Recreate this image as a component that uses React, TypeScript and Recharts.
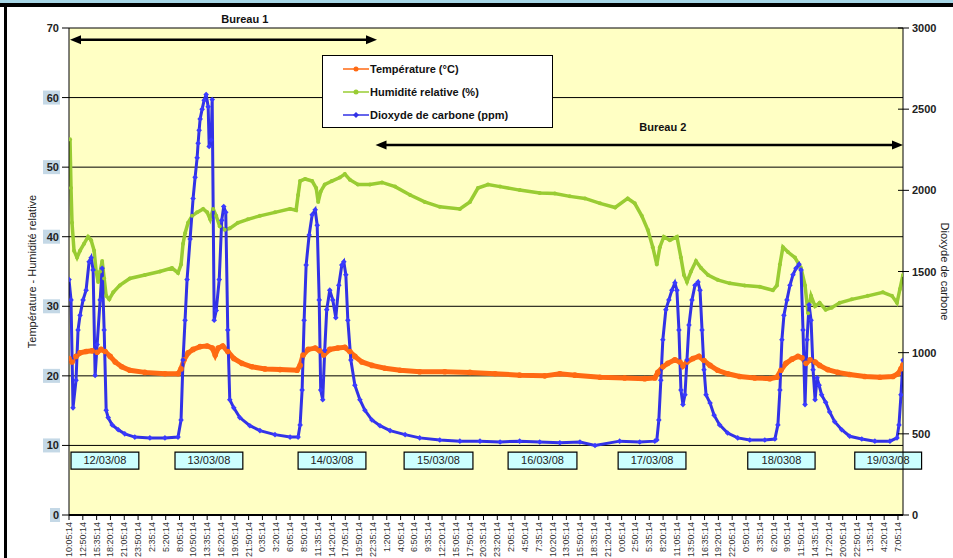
import { LineChart, Line, XAxis, YAxis, CartesianGrid, ReferenceArea, ReferenceLine, ReferenceDot } from 'recharts';

const FONT = '"Liberation Sans", Arial, sans-serif';

// x axis: hours since 12/03/08 10:05:14, one label every 2h45
const tickLabels = [
  '10:05:14', '12:50:14', '15:35:14', '18:20:14', '21:05:14', '23:50:14', '2:35:14', '5:20:14',
  '8:05:14', '10:50:14', '13:35:14', '16:20:14', '19:05:14', '21:50:14', '0:35:14', '3:20:14',
  '6:05:14', '8:50:14', '11:35:14', '14:20:14', '17:05:14', '19:50:14', '22:35:14', '1:20:14',
  '4:05:14', '6:50:14', '9:35:14', '12:20:14', '15:05:14', '17:50:14', '20:35:14', '23:20:14',
  '2:05:14', '4:50:14', '7:35:14', '10:20:14', '13:05:14', '15:50:14', '18:35:14', '21:20:14',
  '0:05:14', '2:50:14', '5:35:14', '8:20:14', '11:05:14', '13:50:14', '16:35:14', '19:20:14',
  '22:05:14', '0:50:14', '3:35:14', '6:20:14', '9:05:14', '11:50:14', '14:35:14', '17:20:14',
  '20:05:14', '22:50:14', '1:35:14', '4:20:14', '7:05:14',
];
const tickHours = tickLabels.map((_, i) => i * 2.75);

const leftTicks = [0, 10, 20, 30, 40, 50, 60, 70];
const rightTicks = [0, 500, 1000, 1500, 2000, 2500, 3000];

const tempHours = [0, 0.6, 1.4, 2.2, 3.4, 4.6, 5.6, 6.4, 7.2, 8.2, 9.2, 10.5, 12.1, 15.1, 19.1, 21.7, 22.3, 22.9, 23.7, 24.7, 26.1, 27.5, 28.5, 29.1, 29.7, 30.6, 31.6, 32.8, 34.4, 36.4, 39.0, 42.0, 45.4, 46.0, 46.6, 47.6, 49.0, 49.9, 50.7, 51.9, 53.5, 54.9, 55.9, 56.9, 58.3, 60.3, 62.9, 65.9, 69.8, 74.8, 79.8, 84.8, 89.7, 94.7, 97.7, 100.7, 105.7, 110.6, 114.6, 116.6, 117.2, 118.2, 119.2, 120.6, 121.6, 122.2, 123.0, 124.2, 125.4, 126.4, 127.6, 129.1, 131.1, 133.5, 136.5, 139.5, 140.9, 141.7, 142.7, 143.9, 145.1, 145.9, 146.7, 147.5, 148.5, 149.4, 151.0, 153.0, 155.4, 158.4, 161.4, 164.0, 165.0, 165.6, 166.0];
const tempC = [22.5, 22.0, 22.8, 23.3, 23.5, 23.6, 23.4, 23.8, 23.5, 22.8, 22.0, 21.3, 20.8, 20.5, 20.3, 20.3, 21.0, 22.3, 23.3, 23.8, 24.2, 24.3, 24.0, 23.0, 24.0, 24.3, 23.5, 22.5, 21.8, 21.3, 21.0, 20.9, 20.8, 21.5, 23.0, 23.8, 24.0, 23.6, 23.0, 23.8, 24.0, 24.1, 23.5, 22.8, 22.0, 21.5, 21.1, 20.8, 20.6, 20.6, 20.5, 20.3, 20.1, 20.0, 20.3, 20.1, 19.8, 19.7, 19.6, 19.7, 20.5, 21.3, 21.8, 22.3, 22.0, 21.4, 22.0, 22.5, 22.8, 22.2, 21.5, 20.8, 20.3, 19.9, 19.7, 19.6, 19.8, 20.8, 21.8, 22.4, 22.8, 22.6, 21.8, 22.3, 22.0, 21.5, 20.9, 20.5, 20.2, 19.9, 19.8, 19.9, 20.3, 21.0, 21.6];

const humHours = [0.2, 0.4, 0.6, 1.0, 1.6, 2.2, 3.0, 3.8, 4.4, 5.0, 5.4, 5.8, 6.2, 6.6, 7.0, 7.4, 8.0, 8.8, 10.1, 12.1, 15.1, 18.1, 20.5, 21.7, 22.3, 22.7, 23.1, 23.7, 24.5, 25.5, 26.7, 27.5, 28.1, 28.7, 29.3, 30.0, 31.0, 32.0, 33.6, 35.6, 38.0, 41.0, 44.0, 45.2, 45.6, 46.0, 47.0, 48.4, 49.2, 49.6, 50.1, 50.9, 52.3, 53.9, 54.9, 55.9, 57.5, 59.9, 62.3, 64.9, 67.9, 70.8, 73.8, 77.8, 79.8, 81.4, 83.4, 85.8, 89.7, 93.7, 96.7, 99.7, 102.7, 105.7, 108.7, 111.2, 112.6, 114.0, 115.2, 116.2, 117.0, 117.6, 118.4, 119.6, 121.0, 121.8, 122.4, 123.0, 123.8, 124.8, 125.8, 127.2, 129.1, 131.5, 134.5, 137.5, 140.1, 140.9, 141.5, 142.1, 143.1, 144.5, 145.7, 146.5, 147.1, 147.7, 148.5, 149.4, 150.6, 151.8, 153.4, 155.8, 159.0, 162.0, 163.8, 164.8, 165.4, 166.0];
const humPct = [54, 47, 42, 38, 37, 38, 39, 40, 39.5, 38, 35, 33.5, 35, 36.5, 34, 31.5, 31, 32, 33, 34, 34.5, 35, 35.5, 34.8, 36, 39, 40.5, 42, 43, 43.5, 44, 43.5, 42.5, 44, 43, 41.5, 41, 41.2, 42, 42.5, 43, 43.5, 44, 43.8, 46, 48, 48.3, 48, 47, 45, 46.5, 47.5, 48, 48.5, 49, 48.2, 47.5, 47.5, 47.8, 47.2, 46, 45, 44.3, 44, 45, 47, 47.5, 47.2, 46.7, 46.3, 46.2, 45.8, 45.5, 44.8, 44.2, 45.5, 44.8, 43, 41, 38.5, 36, 38.5, 40, 39.5, 40, 37, 34.5, 33.5, 35, 36.5, 35.5, 34.5, 33.8, 33.3, 33, 32.8, 32.3, 33, 36, 38.5, 37.8, 37, 35.5, 33, 29, 31.5, 30, 30.5, 29.5, 29.8, 30.5, 31, 31.5, 32, 31.5, 30.5, 32.5, 34.5];

const co2Hours = [0, 0.4, 0.8, 1.4, 1.8, 2.2, 2.8, 3.4, 4.0, 4.4, 4.8, 5.2, 5.6, 6.2, 6.6, 7.0, 7.4, 7.8, 8.6, 9.8, 11.1, 13.1, 16.1, 19.1, 21.7, 22.3, 22.7, 23.1, 23.5, 24.1, 24.7, 25.1, 25.5, 25.7, 25.9, 26.1, 26.5, 26.9, 27.3, 27.7, 27.9, 28.3, 28.5, 28.9, 29.3, 29.9, 30.4, 30.8, 31.2, 31.6, 32.0, 32.8, 34.0, 36.0, 38.0, 41.0, 44.0, 45.6, 46.0, 46.4, 46.8, 47.2, 47.8, 48.4, 49.0, 49.4, 49.8, 50.1, 50.5, 50.9, 51.3, 51.9, 52.5, 53.1, 53.7, 54.3, 54.7, 55.1, 55.5, 56.1, 56.9, 57.9, 58.9, 60.3, 61.9, 63.9, 66.9, 69.8, 73.8, 77.8, 81.8, 85.8, 89.7, 93.7, 97.7, 101.7, 104.7, 109.6, 113.6, 116.6, 117.0, 117.4, 117.8, 118.2, 118.8, 119.4, 120.0, 120.6, 121.0, 121.4, 121.8, 122.2, 122.6, 123.0, 123.4, 124.0, 124.6, 125.2, 125.6, 126.0, 126.4, 126.8, 127.6, 128.4, 129.5, 131.1, 133.1, 135.5, 138.5, 140.5, 141.1, 141.5, 141.9, 142.3, 142.9, 143.5, 144.1, 144.7, 145.3, 145.7, 146.1, 146.5, 146.9, 147.3, 147.7, 148.1, 148.5, 148.9, 149.3, 149.8, 150.6, 151.4, 152.4, 153.8, 155.4, 157.8, 160.4, 163.4, 164.8, 165.2, 165.6, 166.0];
const co2Ppm = [1450, 1325, 660, 830, 1140, 1230, 1325, 1385, 1560, 1585, 1510, 860, 1050, 1325, 1520, 1140, 645, 600, 555, 525, 500, 480, 475, 475, 480, 585, 955, 1200, 1450, 1700, 1950, 2080, 2200, 2290, 2370, 2440, 2500, 2555, 2590, 2515, 2270, 2310, 2560, 1200, 1260, 1450, 1815, 1900, 1865, 1140, 710, 660, 600, 550, 520, 495, 480, 480, 555, 770, 1200, 1540, 1725, 1850, 1880, 1785, 1325, 770, 710, 1015, 1265, 1385, 1325, 1215, 1415, 1540, 1560, 1480, 1200, 955, 800, 710, 645, 585, 550, 520, 495, 475, 462, 455, 455, 450, 455, 450, 445, 450, 428, 455, 450, 455, 462, 585, 830, 1080, 1265, 1325, 1385, 1430, 1385, 1140, 770, 680, 740, 955, 1170, 1325, 1415, 1435, 1385, 1140, 895, 740, 690, 615, 555, 505, 475, 462, 462, 468, 555, 770, 1080, 1230, 1325, 1415, 1480, 1520, 1545, 1510, 1140, 680, 1080, 1295, 1200, 895, 710, 845, 800, 740, 695, 635, 575, 525, 485, 468, 455, 455, 475, 555, 740, 955];

const tempData = tempHours.map((t, i) => ({ t, v: tempC[i] }));
const humData = humHours.map((t, i) => ({ t, v: humPct[i] }));
const co2Data = co2Hours.map((t, i) => ({ t, v: co2Ppm[i] }));

// date annotations (hours) on the left axis scale
const dateLabels = ['12/03/08', '13/03/08', '14/03/08', '15/03/08', '16/03/08', '17/03/08', '18/0308', '19/03/08'];
const dateFrom = [0.4, 21.1, 45.6, 66.7, 87.4, 109.3, 135.1, 156.4];
const dateTo = [13.9, 34.6, 59.1, 80.4, 101.1, 122.8, 148.5, 169.7];

const series = [
  { name: 'Température (°C)', color: '#ff6a13' },
  { name: 'Humidité relative (%)', color: '#99cc33' },
  { name: 'Dioxyde de carbone (ppm)', color: '#3232e6' },
];

const TimeTick = (p: any) => {
  const label = tickLabels[Math.round(p.payload.value / 2.75)];
  return (
    <text x={p.x} y={p.y} dy={3} transform={`rotate(-90 ${p.x} ${p.y})`} textAnchor="end" fontSize={9} fill="#333">
      {label}
    </text>
  );
};

const LeftTick = (p: any) => {
  const v = p.payload.value;
  const w = String(v).length * 7 + 3;
  return (
    <g>
      {v < 70 && <rect x={p.x - w + 1} y={p.y - 7} width={w} height={14} fill="#c4d8e6" />}
      <text x={p.x} y={p.y} dy={4} textAnchor="end" fontSize={11} fontWeight="bold" fill="#222">{v}</text>
    </g>
  );
};

const RightTick = (p: any) => (
  <g>
    <line x1={p.x - 14} x2={p.x - 3} y1={p.y} y2={p.y} stroke="#000" />
    <text x={p.x} y={p.y} dy={4} textAnchor="start" fontSize={11} fontWeight="bold" fill="#222">{p.payload.value}</text>
  </g>
);

const Diamond = (p: any) => {
  if (p.cx == null || p.cy == null) return <g key={p.index} />;
  const s = 2.8;
  return (
    <path key={p.index} d={`M${p.cx},${p.cy - s}L${p.cx + s},${p.cy}L${p.cx},${p.cy + s}L${p.cx - s},${p.cy}Z`} fill="#3a3aff" />
  );
};

const Arrow = (p: any) => {
  const { x1, y1, x2, y2 } = p;
  const h = 11;
  const w = 4.5;
  return (
    <g>
      <line x1={x1 + h - 1} y1={y1} x2={x2 - h + 1} y2={y2} stroke="#000" strokeWidth={2.5} />
      <polygon points={`${x1},${y1} ${x1 + h},${y1 - w} ${x1 + h},${y1 + w}`} fill="#000" />
      <polygon points={`${x2},${y2} ${x2 - h},${y2 - w} ${x2 - h},${y2 + w}`} fill="#000" />
    </g>
  );
};

const textShape = (label: string) => (p: any) => (
  <text x={p.cx} y={p.cy} textAnchor="middle" dominantBaseline="middle" fontSize={11} fontWeight="bold" fill="#111">
    {label}
  </text>
);

function LegendBox() {
  return (
    <div
      style={{
        position: 'absolute', left: 322, top: 55, width: 229, height: 71, background: '#fff',
        border: '1px solid #000', fontFamily: FONT, fontSize: 11, fontWeight: 'bold', color: '#111',
      }}
    >
      {series.map((s, i) => (
        <div key={s.name} style={{ position: 'absolute', left: 20, top: 6 + i * 23, height: 14, display: 'flex', alignItems: 'center' }}>
          <svg width={26} height={10}>
            <line x1={0} x2={26} y1={5} y2={5} stroke={s.color} strokeWidth={1.5} />
            {i === 2 ? <path d="M13,2L16,5L13,8L10,5Z" fill={s.color} /> : <circle cx={13} cy={5} r={2.5} fill={s.color} />}
          </svg>
          <span style={{ marginLeft: 1 }}>{s.name}</span>
        </div>
      ))}
    </div>
  );
}

export default function App() {
  return (
    <div style={{ position: 'absolute', left: 0, top: 0, width: 953, height: 558, background: '#fff', fontFamily: FONT, overflow: 'hidden' }}>
      <div style={{ position: 'absolute', left: 0, top: 0, width: 953, height: 3, background: '#a6d6e6' }} />
      <div style={{ position: 'absolute', left: 0, top: 3, width: 953, height: 4, background: '#000' }} />
      <div style={{ position: 'absolute', left: 4, top: 3, width: 3, height: 555, background: '#000' }} />
      <LineChart width={953} height={558} margin={{ top: 28, right: 0, bottom: 0, left: 0 }}>
        <CartesianGrid yAxisId="left" vertical={false} stroke="#000" strokeWidth={1} fill="#ffffc4" fillOpacity={1} />
        <XAxis
          dataKey="t"
          type="number"
          domain={[0, 166]}
          allowDataOverflow
          ticks={tickHours}
          interval={0}
          height={43}
          tickSize={5}
          tickMargin={2}
          tick={TimeTick}
          axisLine={{ stroke: '#000', strokeWidth: 2 }}
          tickLine={{ stroke: '#000' }}
        />
        <YAxis
          yAxisId="left"
          domain={[0, 70]}
          ticks={leftTicks}
          interval={0}
          width={69}
          tickSize={7}
          tickMargin={3}
          tick={LeftTick}
          axisLine={{ stroke: '#000' }}
          tickLine={{ stroke: '#000' }}
          label={{ value: 'Température - Humidité relative', angle: -90, position: 'center', dx: -2, fontSize: 11, fill: '#222' }}
        />
        <YAxis
          yAxisId="right"
          orientation="right"
          domain={[0, 3000]}
          ticks={rightTicks}
          interval={0}
          width={50}
          tickSize={6}
          tickMargin={3}
          tick={RightTick}
          tickLine={false}
          axisLine={{ stroke: '#000' }}
          label={{ value: 'Dioxyde de carbone', angle: 90, position: 'center', dx: 17, fontSize: 11, fill: '#222' }}
        />
        {dateLabels.map((d, i) => (
          <ReferenceArea
            key={d}
            yAxisId="left"
            x1={dateFrom[i]}
            x2={dateTo[i]}
            y1={6.6}
            y2={9.05}
            ifOverflow="visible"
            fill="#ccffff"
            fillOpacity={1}
            stroke="#000"
            strokeWidth={1.2}
            label={{ value: d, position: 'center', fontSize: 11, fill: '#222' }}
          />
        ))}
        <ReferenceLine yAxisId="left" segment={[{ x: 0.2, y: 68.3 }, { x: 61.3, y: 68.3 }]} shape={Arrow} ifOverflow="visible" />
        <ReferenceLine yAxisId="left" segment={[{ x: 61.0, y: 53.2 }, { x: 166, y: 53.2 }]} shape={Arrow} ifOverflow="visible" />
        <ReferenceDot yAxisId="left" x={35.0} y={71.15} ifOverflow="visible" shape={textShape('Bureau 1')} />
        <ReferenceDot yAxisId="left" x={118.2} y={55.6} ifOverflow="visible" shape={textShape('Bureau 2')} />
        <Line
          yAxisId="left"
          data={tempData}
          dataKey="v"
          name={series[0].name}
          type="linear"
          stroke={series[0].color}
          strokeWidth={5}
          dot={{ r: 2.8, fill: series[0].color, stroke: 'none' }}
          activeDot={false}
          isAnimationActive={false}
        />
        <Line
          yAxisId="left"
          data={humData}
          dataKey="v"
          name={series[1].name}
          type="linear"
          stroke={series[1].color}
          strokeWidth={3.5}
          dot={{ r: 2, fill: series[1].color, stroke: 'none' }}
          activeDot={false}
          isAnimationActive={false}
        />
        <Line
          yAxisId="right"
          data={co2Data}
          dataKey="v"
          name={series[2].name}
          type="linear"
          stroke={series[2].color}
          strokeWidth={3}
          dot={Diamond}
          activeDot={false}
          isAnimationActive={false}
        />
      </LineChart>
      <LegendBox />
    </div>
  );
}
